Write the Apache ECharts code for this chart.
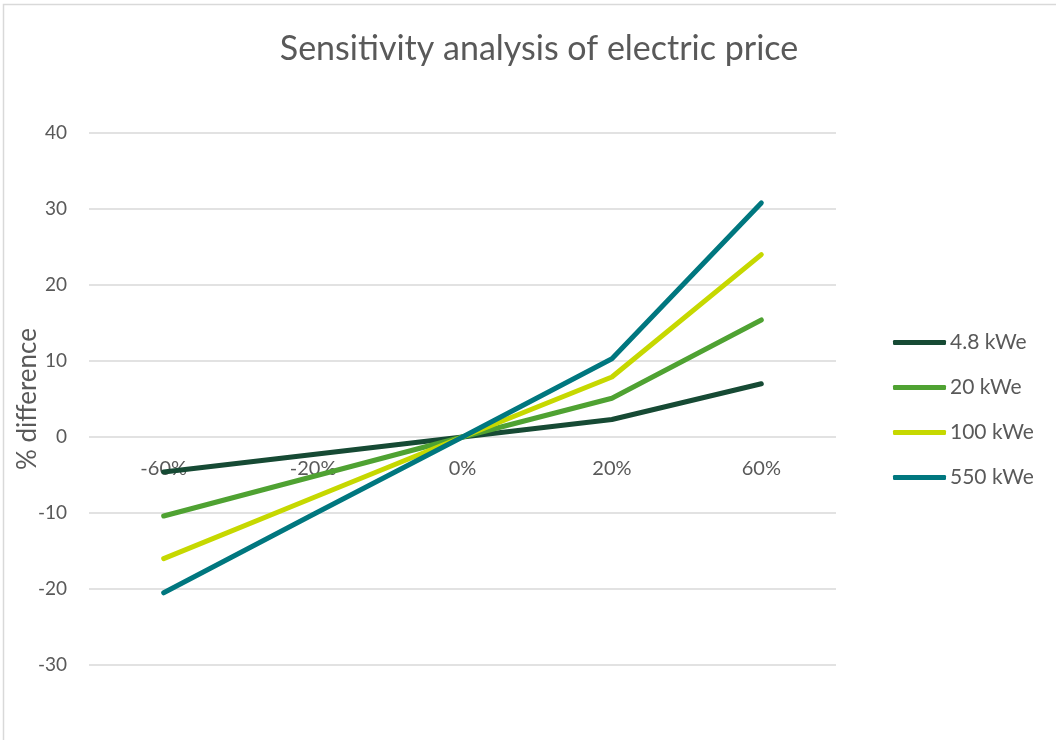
<!DOCTYPE html>
<html>
<head>
<meta charset="utf-8">
<script src="https://cdn.jsdelivr.net/npm/echarts@6/dist/echarts.min.js"></script>
<style>
  html, body { margin: 0; padding: 0; background: #fff; }
  #chart { width: 1056px; height: 740px; }
</style>
</head>
<body>
<div id="chart"></div>
<script>
// Change in electric price (x) vs % difference (y)
const categories = ['-60%', '-20%', '0%', '20%', '60%'];
const seriesNames = ['4.8 kWe', '20 kWe', '100 kWe', '550 kWe'];
const kwe4_8 = [-4.6, -2.3, 0, 2.3, 7.0];
const kwe20 = [-10.4, -5.2, 0, 5.1, 15.4];
const kwe100 = [-16.0, -8.0, 0, 7.9, 24.0];
const kwe550 = [-20.5, -10.2, 0, 10.3, 30.8];
const yTicks = { min: -30, max: 40, interval: 10 };

const colors = ['#164a34', '#4fa232', '#c6d800', '#00777f'];
const seriesData = [kwe4_8, kwe20, kwe100, kwe550];
const font = 'Lato, "Open Sans", sans-serif';

// plot area
const gridTop = 133, gridBottom = 75, chartHeight = 740;
const plotHeight = chartHeight - gridTop - gridBottom;
// category labels sit on the zero line, so shift the x axis up from the bottom edge
const zeroOffset = -plotHeight * (0 - yTicks.min) / (yTicks.max - yTicks.min);

const chart = echarts.init(document.getElementById('chart'), null, { renderer: 'canvas' });
chart.setOption({
  animation: false,
  backgroundColor: '#fff',
  graphic: [{
    type: 'rect',
    shape: { x: 3.5, y: 4.5, width: 1100, height: 800 },
    style: { fill: 'none', stroke: '#d9d9d9', lineWidth: 1.5 },
    silent: true
  }],
  title: {
    text: 'Sensitivity analysis of electric price',
    left: 534, top: 27, textAlign: 'center',
    textStyle: { fontFamily: font, fontSize: 34, fontWeight: 'normal', color: '#595959' }
  },
  legend: {
    orient: 'vertical',
    left: 893, top: 332,
    padding: 0,
    itemWidth: 53, itemHeight: 5, itemGap: 24,
    icon: 'roundRect',
    textStyle: { fontFamily: font, fontSize: 21, color: '#595959', padding: [0, 0, 0, -1] },
    data: seriesNames
  },
  grid: {
    left: 89, right: 220, top: gridTop, bottom: gridBottom,
    containLabel: false, outerBoundsMode: 'none'
  },
  xAxis: {
    type: 'category',
    data: categories,
    boundaryGap: true,
    offset: zeroOffset,
    axisLine: { show: false, onZero: false },
    axisTick: { show: false },
    axisLabel: { fontFamily: font, fontSize: 20, color: '#595959', margin: 22 }
  },
  yAxis: {
    type: 'value',
    min: yTicks.min, max: yTicks.max, interval: yTicks.interval,
    name: '% difference',
    nameLocation: 'middle',
    nameGap: 48,
    nameMoveOverlap: false,
    nameTextStyle: { fontFamily: font, fontSize: 26, color: '#595959' },
    axisLine: { show: false },
    axisTick: { show: false },
    axisLabel: { fontFamily: font, fontSize: 19, color: '#595959', margin: 22 },
    splitLine: { lineStyle: { color: '#d9d9d9', width: 1.5 } }
  },
  series: seriesNames.map((name, i) => ({
    name: name,
    type: 'line',
    data: seriesData[i],
    symbol: 'none',
    color: colors[i],
    z: 3,
    lineStyle: { width: 5, color: colors[i], cap: 'round', join: 'round' }
  }))
});
</script>
</body>
</html>
